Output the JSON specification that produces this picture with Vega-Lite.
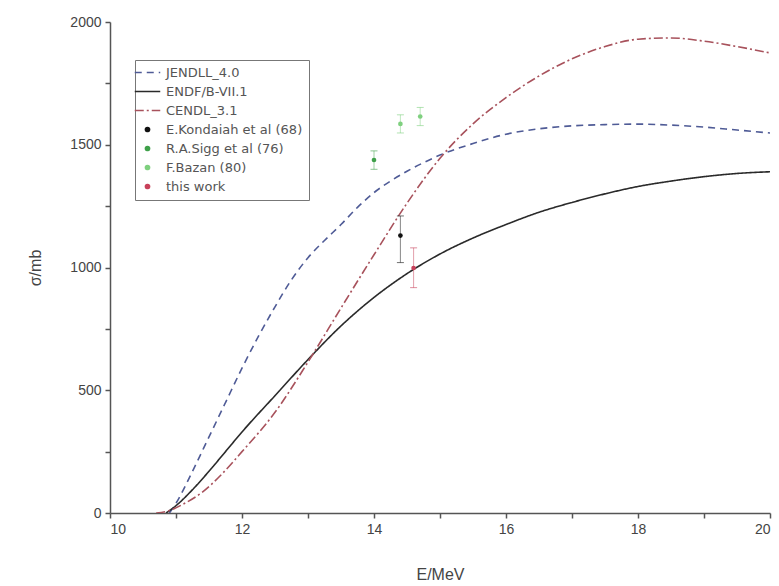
{
  "$schema": "https://vega.github.io/schema/vega-lite/v6.json",
  "autosize": "none",
  "width": 660,
  "height": 491,
  "padding": {"left": 110, "top": 22, "right": 9, "bottom": 73},
  "background": "white",
  "config": {
    "view": {"stroke": null},
    "font": "Liberation Sans",
    "axis": {
      "grid": false,
      "domainColor": "#555",
      "domainWidth": 1.5,
      "tickColor": "#555",
      "tickWidth": 1.5,
      "tickSize": 5,
      "labelColor": "#444",
      "labelFontSize": 14,
      "titleColor": "#444",
      "titleFontSize": 16,
      "titleFontWeight": "normal"
    },
    "legend": {
      "orient": "none",
      "legendX": 25,
      "legendY": 38,
      "title": null,
      "strokeColor": "#777",
      "padding": 6,
      "labelFont": "DejaVu Sans",
      "labelFontSize": 13,
      "labelColor": "#555",
      "symbolSize": 650,
      "symbolStrokeWidth": 1.5,
      "rowPadding": 5,
      "labelOffset": 12
    }
  },
  "datasets": {
    "curves": [
      {"series": "JENDLL_4.0", "E": 10.9, "sigma": 0},
      {"series": "JENDLL_4.0", "E": 11.0, "sigma": 40},
      {"series": "JENDLL_4.0", "E": 11.25, "sigma": 170},
      {"series": "JENDLL_4.0", "E": 11.5, "sigma": 310},
      {"series": "JENDLL_4.0", "E": 11.75, "sigma": 450},
      {"series": "JENDLL_4.0", "E": 12.0, "sigma": 590},
      {"series": "JENDLL_4.0", "E": 12.25, "sigma": 720},
      {"series": "JENDLL_4.0", "E": 12.5, "sigma": 840},
      {"series": "JENDLL_4.0", "E": 12.75, "sigma": 950},
      {"series": "JENDLL_4.0", "E": 13.0, "sigma": 1040},
      {"series": "JENDLL_4.0", "E": 13.25, "sigma": 1110},
      {"series": "JENDLL_4.0", "E": 13.5, "sigma": 1175},
      {"series": "JENDLL_4.0", "E": 13.75, "sigma": 1245},
      {"series": "JENDLL_4.0", "E": 14.0, "sigma": 1305},
      {"series": "JENDLL_4.0", "E": 14.25, "sigma": 1352},
      {"series": "JENDLL_4.0", "E": 14.5, "sigma": 1392},
      {"series": "JENDLL_4.0", "E": 14.75, "sigma": 1427},
      {"series": "JENDLL_4.0", "E": 15.0, "sigma": 1458},
      {"series": "JENDLL_4.0", "E": 15.5, "sigma": 1505},
      {"series": "JENDLL_4.0", "E": 16.0, "sigma": 1543},
      {"series": "JENDLL_4.0", "E": 16.5, "sigma": 1565},
      {"series": "JENDLL_4.0", "E": 17.0, "sigma": 1577},
      {"series": "JENDLL_4.0", "E": 17.5, "sigma": 1582},
      {"series": "JENDLL_4.0", "E": 18.0, "sigma": 1584},
      {"series": "JENDLL_4.0", "E": 18.5, "sigma": 1580},
      {"series": "JENDLL_4.0", "E": 19.0, "sigma": 1572},
      {"series": "JENDLL_4.0", "E": 19.5, "sigma": 1560},
      {"series": "JENDLL_4.0", "E": 20.0, "sigma": 1548},
      {"series": "ENDF/B-VII.1", "E": 10.85, "sigma": 0},
      {"series": "ENDF/B-VII.1", "E": 11.0, "sigma": 30},
      {"series": "ENDF/B-VII.1", "E": 11.25, "sigma": 95},
      {"series": "ENDF/B-VII.1", "E": 11.5, "sigma": 170},
      {"series": "ENDF/B-VII.1", "E": 11.75, "sigma": 250},
      {"series": "ENDF/B-VII.1", "E": 12.0, "sigma": 330},
      {"series": "ENDF/B-VII.1", "E": 12.5, "sigma": 478},
      {"series": "ENDF/B-VII.1", "E": 13.0, "sigma": 625},
      {"series": "ENDF/B-VII.1", "E": 13.5, "sigma": 762},
      {"series": "ENDF/B-VII.1", "E": 14.0, "sigma": 878},
      {"series": "ENDF/B-VII.1", "E": 14.5, "sigma": 975},
      {"series": "ENDF/B-VII.1", "E": 15.0, "sigma": 1055},
      {"series": "ENDF/B-VII.1", "E": 15.5, "sigma": 1120},
      {"series": "ENDF/B-VII.1", "E": 16.0, "sigma": 1175},
      {"series": "ENDF/B-VII.1", "E": 16.5, "sigma": 1225},
      {"series": "ENDF/B-VII.1", "E": 17.0, "sigma": 1265},
      {"series": "ENDF/B-VII.1", "E": 17.5, "sigma": 1300},
      {"series": "ENDF/B-VII.1", "E": 18.0, "sigma": 1330},
      {"series": "ENDF/B-VII.1", "E": 18.5, "sigma": 1352},
      {"series": "ENDF/B-VII.1", "E": 19.0, "sigma": 1370},
      {"series": "ENDF/B-VII.1", "E": 19.5, "sigma": 1383},
      {"series": "ENDF/B-VII.1", "E": 20.0, "sigma": 1390},
      {"series": "CENDL_3.1", "E": 10.7, "sigma": 0},
      {"series": "CENDL_3.1", "E": 10.9, "sigma": 10},
      {"series": "CENDL_3.1", "E": 11.1, "sigma": 35},
      {"series": "CENDL_3.1", "E": 11.4, "sigma": 85},
      {"series": "CENDL_3.1", "E": 11.7, "sigma": 160},
      {"series": "CENDL_3.1", "E": 12.0, "sigma": 250},
      {"series": "CENDL_3.1", "E": 12.5, "sigma": 410},
      {"series": "CENDL_3.1", "E": 13.0, "sigma": 615},
      {"series": "CENDL_3.1", "E": 13.5, "sigma": 835},
      {"series": "CENDL_3.1", "E": 14.0, "sigma": 1052},
      {"series": "CENDL_3.1", "E": 14.5, "sigma": 1262},
      {"series": "CENDL_3.1", "E": 15.0, "sigma": 1445},
      {"series": "CENDL_3.1", "E": 15.5, "sigma": 1585},
      {"series": "CENDL_3.1", "E": 16.0, "sigma": 1692},
      {"series": "CENDL_3.1", "E": 16.5, "sigma": 1780},
      {"series": "CENDL_3.1", "E": 17.0, "sigma": 1850},
      {"series": "CENDL_3.1", "E": 17.5, "sigma": 1900},
      {"series": "CENDL_3.1", "E": 18.0, "sigma": 1930},
      {"series": "CENDL_3.1", "E": 18.5, "sigma": 1935},
      {"series": "CENDL_3.1", "E": 19.0, "sigma": 1922},
      {"series": "CENDL_3.1", "E": 19.5, "sigma": 1900},
      {"series": "CENDL_3.1", "E": 20.0, "sigma": 1874}
    ],
    "points": [
      {"series": "E.Kondaiah et al (68)", "E": 14.4, "sigma": 1130, "lo": 1020, "hi": 1210},
      {"series": "R.A.Sigg et al (76)", "E": 14.0, "sigma": 1438, "lo": 1400, "hi": 1475},
      {"series": "F.Bazan (80)", "E": 14.4, "sigma": 1585, "lo": 1548, "hi": 1622},
      {"series": "F.Bazan (80)", "E": 14.7, "sigma": 1615, "lo": 1578, "hi": 1652},
      {"series": "this work", "E": 14.6, "sigma": 998, "lo": 918, "hi": 1080}
    ]
  },
  "layer": [
    {
      "data": {"name": "curves"},
      "mark": {"type": "line", "strokeWidth": 1.6, "interpolate": "monotone", "clip": true},
      "encoding": {
        "x": {
          "field": "E", "type": "quantitative",
          "scale": {"domain": [10, 20], "nice": false},
          "axis": {
            "title": "E/MeV",
            "format": "d",
            "values": [10, 11, 12, 13, 14, 15, 16, 17, 18, 19, 20],
            "labelExpr": "datum.value % 2 == 0 ? datum.label : ''",
            "labelPadding": 4,
            "titlePadding": 30
          }
        },
        "y": {
          "field": "sigma", "type": "quantitative",
          "scale": {"domain": [0, 2000], "nice": false},
          "axis": {
            "title": "σ/mb",
            "format": "d",
            "values": [0, 250, 500, 750, 1000, 1250, 1500, 1750, 2000],
            "labelExpr": "datum.value % 500 == 0 ? datum.label : ''",
            "labelPadding": 4,
            "titlePadding": 26
          }
        },
        "color": {
          "field": "series", "type": "nominal",
          "scale": {
            "domain": ["JENDLL_4.0", "ENDF/B-VII.1", "CENDL_3.1", "E.Kondaiah et al (68)", "R.A.Sigg et al (76)", "F.Bazan (80)", "this work"],
            "range": ["#4f5b96", "#2a2a2a", "#a8525c", "#111111", "#3fa04a", "#7fd07f", "#c8405a"]
          },
          "legend": {
            "title": null,
            "encode": {
              "symbols": {
                "update": {
                  "stroke": {"scale": "color", "field": "value"},
                  "fill": {"scale": "color", "field": "value"},
                  "size": {"signal": "indexof(['JENDLL_4.0','ENDF/B-VII.1','CENDL_3.1'], datum.value) >= 0 ? 650 : 18"}
                }
              }
            }
          }
        },
        "strokeDash": {
          "field": "series", "type": "nominal",
          "scale": {
            "domain": ["JENDLL_4.0", "ENDF/B-VII.1", "CENDL_3.1", "E.Kondaiah et al (68)", "R.A.Sigg et al (76)", "F.Bazan (80)", "this work"],
            "range": [[7, 5], [1, 0], [9, 3, 2, 3], [1, 0], [1, 0], [1, 0], [1, 0]]
          },
          "legend": {"title": null}
        }
      }
    },
    {
      "data": {"name": "points"},
      "mark": {"type": "rule", "strokeWidth": 1, "opacity": 0.5},
      "encoding": {
        "x": {"field": "E", "type": "quantitative"},
        "y": {"field": "lo", "type": "quantitative"},
        "y2": {"field": "hi"},
        "color": {"field": "series", "type": "nominal"}
      }
    },
    {
      "data": {"name": "points"},
      "mark": {"type": "tick", "orient": "horizontal", "size": 7, "thickness": 1, "opacity": 0.6},
      "encoding": {
        "x": {"field": "E", "type": "quantitative"},
        "y": {"field": "hi", "type": "quantitative"},
        "color": {"field": "series", "type": "nominal"}
      }
    },
    {
      "data": {"name": "points"},
      "mark": {"type": "tick", "orient": "horizontal", "size": 7, "thickness": 1, "opacity": 0.6},
      "encoding": {
        "x": {"field": "E", "type": "quantitative"},
        "y": {"field": "lo", "type": "quantitative"},
        "color": {"field": "series", "type": "nominal"}
      }
    },
    {
      "data": {"name": "points"},
      "mark": {"type": "point", "filled": true, "size": 22, "opacity": 1},
      "encoding": {
        "x": {"field": "E", "type": "quantitative"},
        "y": {"field": "sigma", "type": "quantitative"},
        "color": {"field": "series", "type": "nominal"},
        "shape": {
          "field": "series", "type": "nominal",
          "scale": {
            "domain": ["JENDLL_4.0", "ENDF/B-VII.1", "CENDL_3.1", "E.Kondaiah et al (68)", "R.A.Sigg et al (76)", "F.Bazan (80)", "this work"],
            "range": ["stroke", "stroke", "stroke", "circle", "circle", "circle", "circle"]
          },
          "legend": {"title": null}
        }
      }
    }
  ]
}
